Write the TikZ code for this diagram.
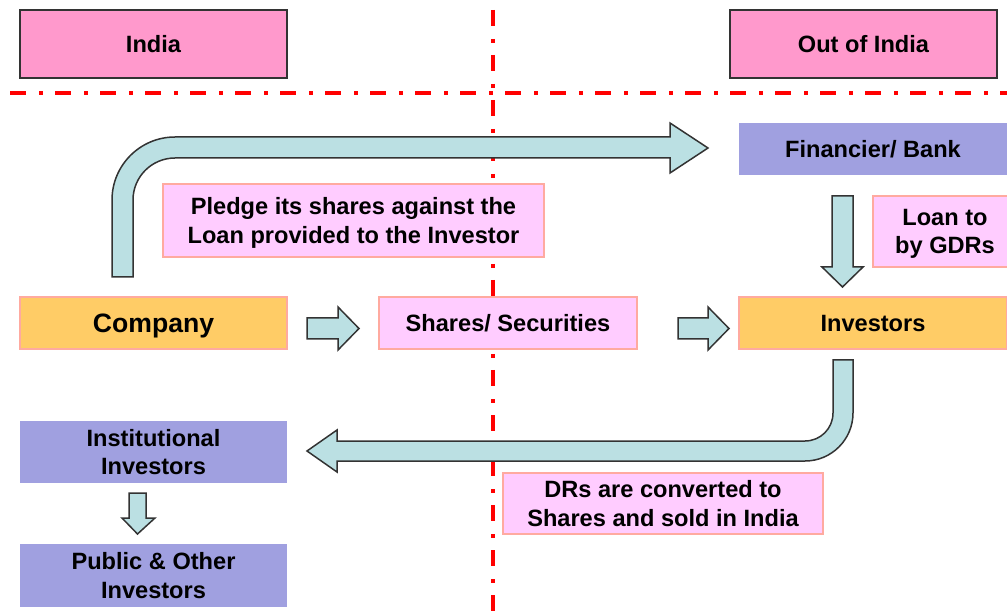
\documentclass[tikz,border=0pt]{standalone}
\usepackage{fontspec}
\setmainfont{Liberation Sans}
\definecolor{headerpink}{RGB}{255, 153, 204}
\definecolor{lavender}{RGB}{160, 160, 224}
\definecolor{marigold}{RGB}{255, 204, 102}
\definecolor{blush}{RGB}{255, 204, 255}
\definecolor{salmon}{RGB}{255, 170, 160}
\definecolor{powder}{RGB}{187, 224, 227}
\definecolor{charcoal}{RGB}{51, 51, 51}
\definecolor{signalred}{RGB}{255, 0, 0}

\tikzset{
  box/.style={rectangle, inner sep=0pt, align=center, font=\bfseries\fontsize{23.6}{28.5}\selectfont},
  oneline/.style={text height=17pt, text depth=0pt},
  header/.style={box, oneline, fill=headerpink, draw=charcoal, line width=2pt},
  note/.style={box, fill=blush, draw=salmon, line width=1.5pt},
  party/.style={box, oneline, fill=marigold, draw=salmon, line width=1.5pt},
  holder/.style={box, fill=lavender},
  blockarrow/.style={fill=powder, draw=charcoal, line width=1.5pt, line join=miter},
  divider/.style={signalred, line width=4pt, dash pattern=on 16pt off 13pt on 4pt off 12pt}
}

\begin{document}
\begin{tikzpicture}[x=1pt, y=-1pt]
        \useasboundingbox (0,0) rectangle (1007,612);
        % borders between the two sides
        \draw[divider] ( 10, 93) -- (1007, 93);
        \draw[divider] (493, 10) -- ( 493,612);

        % headers
        \node[header, minimum width=267pt, minimum height=68pt] (india)   at (153.5, 44.0) {India};
        \node[header, minimum width=267pt, minimum height=68pt] (abroad)  at (863.5, 44.0) {Out of India};

        % boxes
        \node[holder, oneline, minimum width=268pt, minimum height=52pt] (bank) at (873.0,149.0) {Financier/ Bank};
        \node[note,   text depth=0pt, minimum width=144pt, minimum height=71pt] (loan)   at (945.0,231.5) {Loan to\\by GDRs};
        \node[note,   text depth=0pt, minimum width=381pt, minimum height=73pt] (pledge) at (353.5,220.5) {Pledge its shares against the\\Loan provided to the Investor};
        \node[party,  minimum width=267pt, minimum height=52pt,
              font=\bfseries\fontsize{26.6}{30}\selectfont, text height=19pt] (company)  at (153.5,323.0) {Company};
        \node[note,   oneline, minimum width=258pt, minimum height=52pt] (shares) at (508.0,323.0) {Shares/ Securities};
        \node[party,  minimum width=268pt, minimum height=52pt] (investors) at (873.0,323.0) {Investors};
        \node[holder, minimum width=267pt, minimum height=62pt] (institute) at (153.5,452.0) {Institutional\\Investors};
        \node[holder, minimum width=267pt, minimum height=63pt] (public)    at (153.5,575.5) {Public \& Other\\Investors};
        \node[note,   minimum width=320pt, minimum height=61pt] (convert)   at (663.0,503.5) {DRs are converted to\\Shares and sold in India};

        % block arrows
        \filldraw[blockarrow] (112,277) -- (112,200) .. controls (112,165.2) and (140.2,137) .. (175,137) -- (670,137) -- (670,123) -- (708,148)
                              -- (670,173) -- (670,158) -- (175,158) .. controls (151.8,158) and (133,176.8) .. (133,200) -- (133,277) -- cycle;
        \filldraw[blockarrow] (307,318) -- (338,318) -- (338,307) -- (359,328.5) -- (338,350) -- (338,339) -- (307,339) -- cycle;
        \filldraw[blockarrow] (678,318) -- (708,318) -- (708,307) -- (729,328.5) -- (708,350) -- (708,339) -- (678,339) -- cycle;
        \filldraw[blockarrow] (832,196) -- (853,196) -- (853,267) -- (863,267) -- (842.5,287) -- (822,267) -- (832,267) -- cycle;
        \filldraw[blockarrow] (833,360) -- (853,360) -- (853,413) .. controls (853,439.5) and (831.5,461) .. (805,461) -- (337,461) -- (337,472)
                              -- (307,451) -- (337,430) -- (337,441) -- (805,441) .. controls (820.5,441) and (833,428.5) .. (833,413) -- cycle;
        \filldraw[blockarrow] (129,493) -- (146,493) -- (146,518) -- (155,518) -- (137.5,534) -- (122,518) -- (129,518) -- cycle;
\end{tikzpicture}
\end{document}
